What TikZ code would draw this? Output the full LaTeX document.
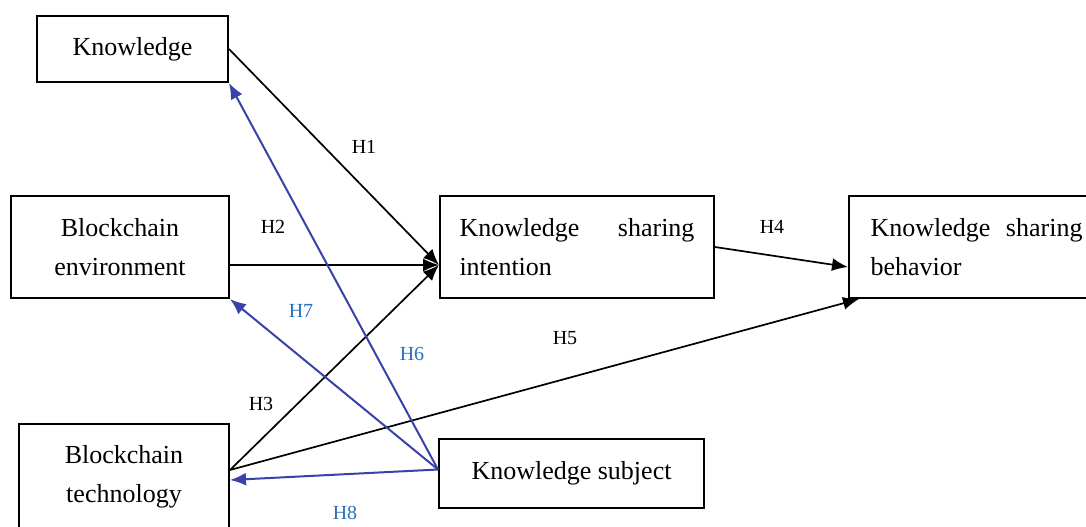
\documentclass[tikz,border=0pt]{standalone}
\usepackage{fontspec}
\setmainfont{Liberation Serif}
\usetikzlibrary{arrows.meta}
\definecolor{arrblue}{RGB}{56,66,168}
\definecolor{labblue}{RGB}{40,112,190}
\tikzset{
  box/.style={draw, line width=1pt, inner sep=0pt, font=\fontsize{13}{19.5}\selectfont},
  hyp/.style={line width=0.85pt, -{Latex[length=8pt,width=6.5pt]}},
  blu/.style={hyp, arrblue, line width=1pt},
  lab/.style={font=\fontsize{10}{12}\selectfont},
}
\begin{document}
\begin{tikzpicture}[x=0.5pt,y=-0.5pt]
  \clip (0,0) rectangle (1086,526);

  \node[box, minimum width=95.5pt, minimum height=33pt] (know) at (132.5,49) {Knowledge};
  \node[box, minimum width=109pt, minimum height=51pt, align=center] (env) at (120,247) {Blockchain\\environment};
  \node[box, minimum width=105pt, minimum height=53pt, align=center] (tech) at (124,477) {Blockchain\\technology};
  \node[box, minimum width=137pt, minimum height=51pt, align=left] (int) at (577,247)
    {\makebox[117.5pt][s]{Knowledge sharing}\\intention};
  \node[box, minimum width=127.5pt, minimum height=51pt, align=left] (beh) at (976.5,247)
    {\makebox[106pt][s]{Knowledge sharing}\\\makebox[106pt][l]{behavior}};
  \node[box, minimum width=132.5pt, minimum height=34.5pt] (subj) at (571.5,473.5) {Knowledge subject};

  \coordinate (hub) at ([yshift=-9pt]int.west);
  \coordinate (tsrc) at ([yshift=3.5pt]tech.east);
  \coordinate (ssrc) at ([yshift=2pt]subj.west);

  \draw[hyp] (know.east) -- (hub);
  \draw[hyp] (env.east |- hub) -- (hub);
  \draw[hyp] (tsrc) -- (hub);
  \draw[hyp] (int.east) -- ([yshift=-10pt]beh.west);
  \draw[hyp] (tsrc) -- ([xshift=5.5pt]beh.south west);

  \draw[blu] (ssrc) -- (know.south east);
  \draw[blu] (ssrc) -- (env.south east);
  \draw[blu] (ssrc) -- ([yshift=-1.5pt]tech.east);

  \node[lab] (h1) at (364,147) {H1};
  \node[lab] (h2) at (273,227) {H2};
  \node[lab] (h3) at (261,404) {H3};
  \node[lab] (h4) at (772,227) {H4};
  \node[lab] (h5) at (565,338) {H5};
  \node[lab, labblue] (h6) at (412,354) {H6};
  \node[lab, labblue] (h7) at (301,311) {H7};
  \node[lab, labblue] (h8) at (345,513) {H8};
\end{tikzpicture}
\end{document}
